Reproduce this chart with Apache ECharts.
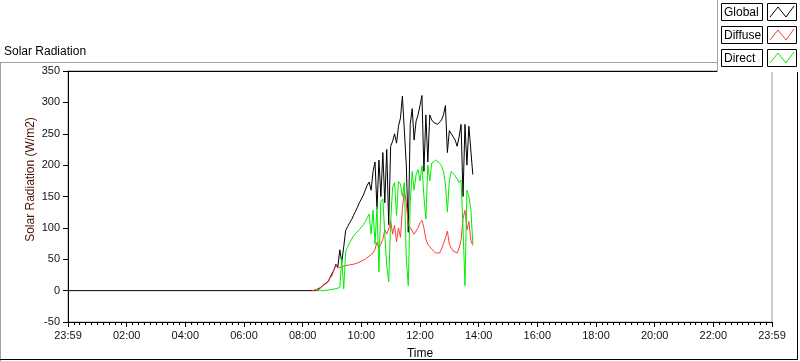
<!DOCTYPE html>
<html>
<head>
<meta charset="utf-8">
<script src="https://cdn.jsdelivr.net/npm/echarts@6/dist/echarts.min.js"></script>
<style>
  html, body { margin: 0; padding: 0; background: #fff; }
  #chart { width: 800px; height: 361px; }
</style>
</head>
<body>
<div id="chart"></div>
<script>
// names / colours of the three traces
const seriesNames = ['Global', 'Diffuse', 'Direct'];
const seriesColors = ['#000000', '#ff3c3c', '#00ee00'];

// samples every 4 minutes, starting 08:20 (minutes after midnight)
const sampleStart = 500;
const sampleStep = 4;

const globalVals = [
  0, 0, 0, 1, 4, 7, 10, 11, 14, 21,
  24, 33, 42, 38, 65, 45, 70, 96, 102, 108,
  113, 120, 126, 133, 140, 146, 152, 160, 168, 173,
  160, 190, 205, 130, 208, 150, 220, 140, 225, 105,
  230, 238, 250, 235, 262, 275, 310, 313, 200, 93,
  265, 290, 240, 270, 280, 295, 311, 190, 280, 205,
  280, 272, 268, 270, 265, 268, 272, 280, 295, 220,
  255, 250, 247, 240, 230, 245, 265, 150, 265, 200,
  262, 265, 185
];

const diffuseVals = [
  0, 1, 2, 3, 5, 7, 9, 10, 14, 20,
  24, 33, 40, 36, 34, 38, 39, 40, 40, 41,
  41, 42, 43, 44, 45, 47, 48, 50, 53, 55,
  57, 60, 66, 77, 68, 74, 82, 97, 90, 98,
  112, 90, 104, 78, 100, 85, 130, 160, 140, 104,
  100, 97, 90, 93, 100, 108, 112, 100, 82, 74,
  70, 66, 63, 60, 57, 60, 66, 75, 84, 95,
  74, 68, 63, 60, 60, 68, 80, 115, 128, 97,
  110, 80, 72
];

const directVals = [
  null, null, 0, 0, 0, 0, 0, 0, 1, 1,
  2, 2, 3, 3, 5, 50, 3, 62, 70, 76,
  82, 87, 91, 94, 97, 101, 105, 110, 116, 122,
  90, 128, 74, 134, 30, 142, 146, 90, 40, 14,
  110, 165, 172, 120, 174, 170, 150, 172, 50, 8,
  140, 190, 160, 185, 193, 175, 199, 150, 114, 200,
  175, 203, 205, 208, 206, 203, 199, 190, 170, 125,
  175, 190, 190, 183, 178, 172, 176, 100, 8, 160,
  150, 130, 75
];

// axis ticks
const xLabelHours = [0, 120, 240, 360, 480, 600, 720, 840, 960, 1080, 1200, 1320, 1440];
const yMin = -50, yMax = 350, yStep = 50;

function toPairs(vals) {
  return vals.map((v, i) => [sampleStart + i * sampleStep, v]);
}

const globalData = [[0, 0]].concat(toPairs(globalVals));
const allData = [globalData, toPairs(diffuseVals), toPairs(directVals)];

function fmtTime(v) {
  if (v === 0 || v === 1440) return '23:59';
  const h = Math.floor(v / 60);
  return (h < 10 ? '0' : '') + h + ':00';
}

const font = '"Liberation Sans", Arial, sans-serif';

// legend panel drawn by hand (LabVIEW-style boxes)
const legendRows = [3, 26, 49];
const legendEls = [
  { type: 'rect', shape: { x: 718, y: 0, width: 82, height: 72 }, style: { fill: '#fff', stroke: null }, z: 100 },
  { type: 'line', shape: { x1: 717.5, y1: 0, x2: 717.5, y2: 72 }, style: { stroke: '#a0a0a0', lineWidth: 1 }, z: 101 }
];
seriesNames.forEach((name, i) => {
  const top = legendRows[i];
  legendEls.push(
    { type: 'rect', shape: { x: 721.5, y: top + 0.5, width: 41, height: 17 }, style: { fill: '#fff', stroke: '#000', lineWidth: 1 }, z: 101 },
    { type: 'text', x: 724, y: top + 9.5, style: { text: name, fill: '#000', font: '12px ' + font, verticalAlign: 'middle' }, z: 102 },
    { type: 'rect', shape: { x: 767.5, y: top + 0.5, width: 29, height: 17 }, style: { fill: '#fff', stroke: '#000', lineWidth: 1 }, z: 101 },
    { type: 'polyline', shape: { points: [[770, top + 14], [778, top + 4], [786, top + 14], [794, top + 3]] }, style: { stroke: seriesColors[i], lineWidth: 1, fill: null }, z: 102 }
  );
});

const frameEls = [
  { type: 'line', shape: { x1: 0, y1: 62.5, x2: 718, y2: 62.5 }, style: { stroke: '#a0a0a0', lineWidth: 1 }, z: 50 },
  { type: 'line', shape: { x1: 0.5, y1: 62, x2: 0.5, y2: 361 }, style: { stroke: '#a0a0a0', lineWidth: 1 }, z: 50 },
  { type: 'line', shape: { x1: 0, y1: 359.5, x2: 798, y2: 359.5 }, style: { stroke: '#000', lineWidth: 1 }, z: 50 },
  { type: 'line', shape: { x1: 797.5, y1: 62, x2: 797.5, y2: 360 }, style: { stroke: '#000', lineWidth: 1 }, z: 50 }
];

const chart = echarts.init(document.getElementById('chart'), null, { renderer: 'canvas' });

const option = {
  animation: false,
  backgroundColor: '#fff',
  title: {
    text: 'Solar Radiation',
    left: -1,
    top: 41,
    textStyle: { fontFamily: font, fontSize: 12, fontWeight: 'normal', color: '#000' }
  },
  grid: {
    left: 68, right: 28, top: 71, bottom: 39,
    outerBoundsMode: 'none',
    containLabel: false,
    show: true, borderColor: '#9a9a9a', borderWidth: 1
  },
  xAxis: [{
    type: 'value',
    min: 0, max: 1440, interval: 120,
    name: 'Time',
    nameLocation: 'middle',
    nameGap: 26,
    nameTextStyle: { fontFamily: font, fontSize: 12, color: '#000' },
    axisLine: { onZero: false, lineStyle: { color: '#000', width: 1 } },
    axisTick: { length: 5, lineStyle: { color: '#000' } },
    minorTick: { show: true, splitNumber: 10, length: 3, lineStyle: { color: '#000' } },
    axisLabel: {
      formatter: fmtTime, fontFamily: font, fontSize: 11, color: '#101020', margin: 8,
      showMinLabel: true, showMaxLabel: true, customValues: xLabelHours
    },
    splitLine: { show: false }
  }, {
    type: 'value', position: 'top', min: 0, max: 1440,
    axisLine: { show: true, onZero: false, lineStyle: { color: '#000', width: 1 } },
    axisTick: { show: false }, axisLabel: { show: false }, splitLine: { show: false }
  }],
  yAxis: {
    type: 'value',
    min: yMin, max: yMax, interval: yStep,
    name: 'Solar Radiation (W/m2)',
    nameLocation: 'middle',
    nameGap: 31,
    nameMoveOverlap: false,
    nameTextStyle: { fontFamily: font, fontSize: 12, color: '#4a1500', padding: [0, 0, 0, 34] },
    axisLine: { show: true, onZero: false, lineStyle: { color: '#000', width: 1 } },
    axisTick: { show: true, length: 5, lineStyle: { color: '#000' } },
    axisLabel: { fontFamily: font, fontSize: 11, color: '#101020', margin: 8 },
    splitLine: { show: false }
  },
  series: seriesNames.map((name, i) => ({
    name: name,
    type: 'line',
    data: allData[i],
    showSymbol: false,
    symbol: 'none',
    connectNulls: false,
    lineStyle: { color: seriesColors[i], width: 1 },
    itemStyle: { color: seriesColors[i] },
    z: 2 + i
  })),
  graphic: frameEls.concat(legendEls)
};

chart.setOption(option);
</script>
</body>
</html>
